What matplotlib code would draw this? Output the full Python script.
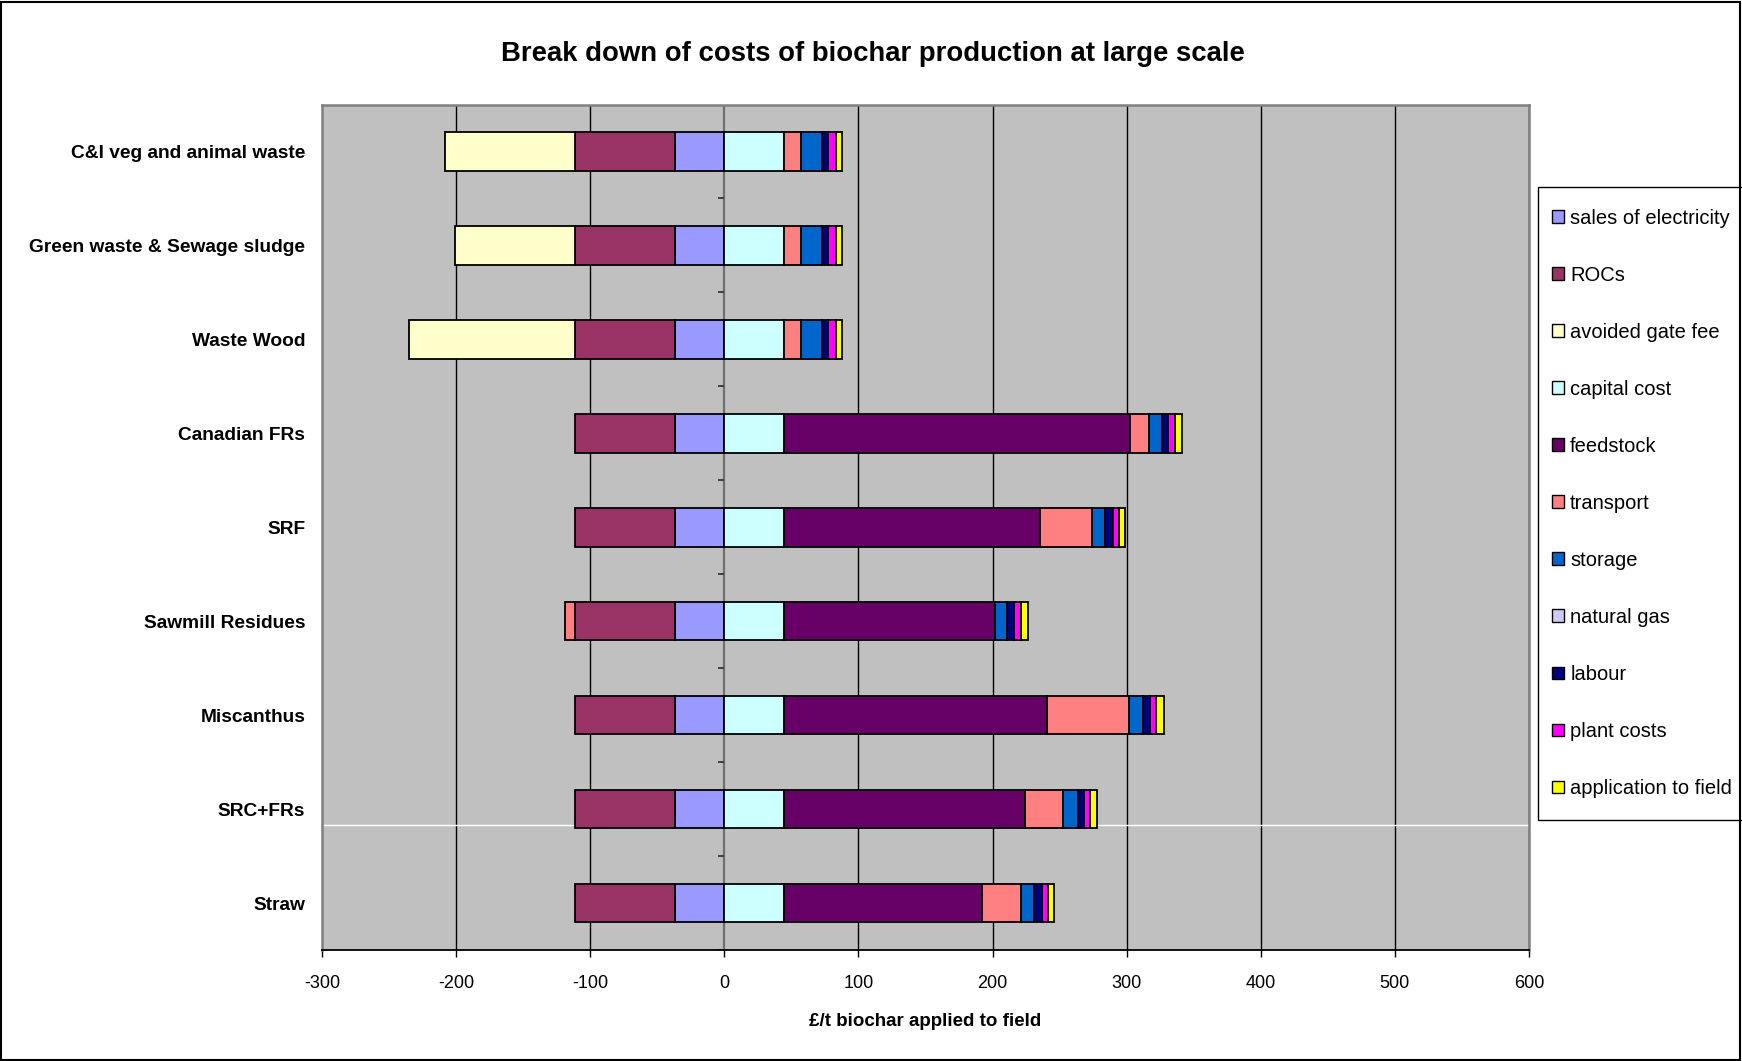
import matplotlib
matplotlib.use("Agg")
import matplotlib.pyplot as plt
from matplotlib.patches import Patch, Rectangle
import numpy as np

plt.rcParams['font.family'] = ['Liberation Sans', 'DejaVu Sans']
plt.rcParams['axes.unicode_minus'] = False

# --- Data: £/t biochar applied to field, one row per feedstock ---
categories = ["C&I veg and animal waste", "Green waste & Sewage sludge", "Waste Wood",
              "Canadian FRs", "SRF", "Sawmill Residues", "Miscanthus", "SRC+FRs", "Straw"]

sales_of_electricity = [-37, -37, -37, -37, -37, -37, -37, -37, -37]
rocs = [-74.5, -74.5, -74.5, -74.5, -74.5, -74.5, -74.5, -74.5, -74.5]
avoided_gate_fee = [-97, -89.6, -123.6, 0, 0, 0, 0, 0, 0]
capital_cost = [44.6, 44.6, 44.6, 44.6, 44.6, 44.6, 44.6, 44.6, 44.6]
feedstock = [0, 0, 0, 258.2, 190.7, 157.2, 195.8, 179.3, 147.9]
transport = [12.7, 12.7, 12.7, 13.5, 38.9, -7.5, 61.1, 28.8, 28.5]
storage = [15.5, 15.5, 15.5, 10.0, 9.7, 9.1, 10.9, 10.9, 9.6]
natural_gas = [0, 0, 0, 0, 0, 0, 0, 0, 0]
labour = [4.8, 4.8, 4.8, 4.4, 5.6, 5.0, 5.2, 4.5, 6.1]
plant_costs = [5.3, 5.3, 5.3, 5.6, 4.7, 5.6, 4.5, 4.2, 4.3]
application_to_field = [4.9, 4.9, 4.9, 5.3, 4.7, 5.0, 5.9, 5.9, 4.8]

series = [
    ("sales of electricity", sales_of_electricity, "#9999FF"),
    ("ROCs", rocs, "#993366"),
    ("avoided gate fee", avoided_gate_fee, "#FFFFCC"),
    ("capital cost", capital_cost, "#CCFFFF"),
    ("feedstock", feedstock, "#660066"),
    ("transport", transport, "#FF8080"),
    ("storage", storage, "#0066CC"),
    ("natural gas", natural_gas, "#CCCCFF"),
    ("labour", labour, "#000080"),
    ("plant costs", plant_costs, "#FF00FF"),
    ("application to field", application_to_field, "#FFFF00"),
]

W, H = 1742, 1061
fig = plt.figure(figsize=(W / 100, H / 100), dpi=100)
ax = fig.add_axes([322 / W, 1 - 950 / H, (1529 - 322) / W, (950 - 104.5) / H])
ax.set_facecolor("#C0C0C0")

y = np.arange(len(categories))
pos = np.zeros(len(categories))
neg = np.zeros(len(categories))

# Excel-style stacking: positives build right from 0, negatives build left
for name, vals, col in series:
    vals = np.array(vals, dtype=float)
    left = np.where(vals >= 0, pos, neg)
    mask = vals != 0
    ax.barh(y[mask], vals[mask], left=left[mask], height=0.41, color=col,
            edgecolor="black", linewidth=1.3, zorder=3)
    pos = pos + np.where(vals > 0, vals, 0)
    neg = neg + np.where(vals < 0, vals, 0)

ax.set_xlim(-300, 600)
ax.set_ylim(len(categories) - 0.5, -0.5)
ax.set_xticks(np.arange(-300, 601, 100))
ax.tick_params(axis="x", direction="out", length=5, width=1, labelsize=13, pad=13)
ax.set_yticks(y)
ax.set_yticklabels(categories, fontsize=13.8, fontweight="bold")
ax.tick_params(axis="y", length=0, pad=12)

# vertical gridlines and the zero axis with its category ticks
for xv in range(-200, 601, 100):
    if xv != 0:
        ax.axvline(xv, color="black", linewidth=1, zorder=1)
ax.axvline(0, color="#707070", linewidth=1.6, zorder=2)
ax.hlines(np.arange(-0.5, len(categories)), -4.5, 0, color="#404040", linewidth=1.4, zorder=2)
ax.axhline(7.165, color="white", linewidth=1, zorder=1.5)

for side in ["left", "right", "top"]:
    ax.spines[side].set_color("#808080")
    ax.spines[side].set_linewidth(1.8)
ax.spines["bottom"].set_color("black")
ax.spines["bottom"].set_linewidth(1.3)

ax.set_xlabel("£/t biochar applied to field", fontsize=13.5, fontweight="bold", labelpad=15)
fig.text(0.501, 1 - 54 / H, "Break down of costs of biochar production at large scale",
         ha="center", va="center", fontsize=19.8, fontweight="bold")

# legend box runs off the right edge of the chart
fig.add_artist(Rectangle((1537.6 / W, 1 - 820 / H), (W - 1537.6 + 5) / W, (820 - 186.6) / H,
                         transform=fig.transFigure, facecolor="white", edgecolor="black",
                         linewidth=1, zorder=4))
handles = [Patch(facecolor=c, edgecolor="black", linewidth=1) for _, _, c in series]
labels = [n for n, _, _ in series]
leg = fig.legend(handles, labels, loc="upper left", bbox_to_anchor=(1552 / W, 1 - 208.5 / H),
                 fontsize=14.5, frameon=False,
                 labelspacing=1.89, handlelength=0.6, handleheight=0.6, handletextpad=0.3,
                 borderpad=0, borderaxespad=0)
leg.set_zorder(5)

# outer chart border
fig.add_artist(Rectangle((1 / W, 1 / H), (W - 3) / W, (H - 3) / H, transform=fig.transFigure,
                         fill=False, edgecolor="black", linewidth=1.5, zorder=6))

fig.savefig("out.png", dpi=100)
